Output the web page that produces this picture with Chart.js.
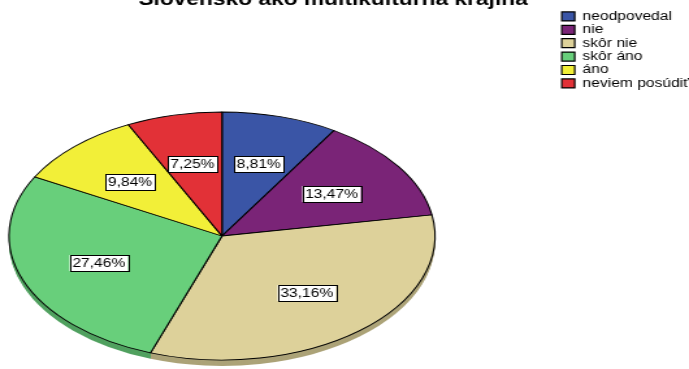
<!DOCTYPE html>
<html>
<head>
<meta charset="utf-8">
<script src="https://cdn.jsdelivr.net/npm/chart.js@4.4.1/dist/chart.umd.min.js"></script>
<style>
  html, body { margin: 0; padding: 0; background: #fff; overflow: hidden; }
  /* the reference picture is stretched sideways, so the chart is drawn narrow and stretched */
  #wrap { width: 540px; height: 369px; transform: scaleX(1.3); transform-origin: 0 0; }
</style>
</head>
<body>
<div id="wrap"><canvas id="pieChart" width="540" height="369"></canvas></div>
<script>
const chartTitle = 'Slovensko ako multikultúrna krajina';
const categories = ['neodpovedal', 'nie', 'skôr nie', 'skôr áno', 'áno', 'neviem posúdiť'];
const percentages = [8.81, 13.47, 33.16, 27.46, 9.84, 7.25];
const sliceColors = ['#3a55a6', '#7a2477', '#ddd19a', '#68cf7b', '#f2ef38', '#e23137'];

const stretch = 1.3;
const fontFamily = '"Liberation Sans", Arial, sans-serif';
const pieCenter = { x: 222 / stretch, y: 236 };
const pieRadii = { x: 213 / stretch, y: 124 };
const pieDepth = 6;

function darken(hex, f) {
  const n = parseInt(hex.slice(1), 16);
  const r = Math.round((n >> 16) * f);
  const g = Math.round(((n >> 8) & 255) * f);
  const b = Math.round((n & 255) * f);
  return `rgb(${r},${g},${b})`;
}

// squash the round pie into the tilted ellipse
function tiltPie(ctx, arc, dy) {
  const sx = pieRadii.x / arc.outerRadius;
  const sy = pieRadii.y / arc.outerRadius;
  ctx.translate(pieCenter.x, pieCenter.y + dy);
  ctx.scale(sx, sy);
  ctx.translate(-arc.x, -arc.y);
}

const tiltedPie = {
  id: 'tiltedPie',
  beforeDatasetsDraw(chart) {
    const ctx = chart.ctx;
    const arcs = chart.getDatasetMeta(0).data;
    // side of the pie: the same arcs, darker, pushed down
    for (let k = pieDepth; k >= 1; k--) {
      ctx.save();
      tiltPie(ctx, arcs[0], k);
      arcs.forEach((arc, i) => {
        const opts = arc.options;
        arc.options = Object.assign({}, opts, { backgroundColor: darken(sliceColors[i], 0.78), borderWidth: 0 });
        arc.draw(ctx);
        arc.options = opts;
      });
      ctx.restore();
    }
    ctx.save();
    tiltPie(ctx, arcs[0], 0);
  },
  afterDatasetsDraw(chart) {
    const ctx = chart.ctx;
    ctx.restore();
    const arcs = chart.getDatasetMeta(0).data;
    ctx.save();
    ctx.font = `12px ${fontFamily}`;
    ctx.textAlign = 'center';
    ctx.textBaseline = 'middle';
    arcs.forEach((arc, i) => {
      const mid = (arc.startAngle + arc.endAngle) / 2;
      const x = Math.round(pieCenter.x + Math.cos(mid) * pieRadii.x * 0.62);
      const y = Math.round(pieCenter.y + Math.sin(mid) * pieRadii.y * 0.6);
      const text = percentages[i].toFixed(2).replace('.', ',') + '%';
      const w = Math.round(ctx.measureText(text).width + 4);
      const h = 16;
      ctx.fillStyle = '#fff';
      ctx.fillRect(x - w / 2, y - h / 2, w, h);
      ctx.strokeStyle = '#000';
      ctx.lineWidth = 1;
      ctx.strokeRect(Math.round(x - w / 2) + 0.5, Math.round(y - h / 2) + 0.5, w, h);
      ctx.fillStyle = '#000';
      ctx.fillText(text, x, y + 1);
    });
    ctx.restore();
  }
};

const cutTitle = {
  id: 'cutTitle',
  afterDraw(chart) {
    const ctx = chart.ctx;
    ctx.save();
    ctx.font = `bold 17.5px ${fontFamily}`;
    ctx.fillStyle = '#000';
    ctx.textAlign = 'center';
    ctx.textBaseline = 'alphabetic';
    ctx.fillText(chartTitle, 333 / stretch, 5);
    ctx.restore();
  }
};

new Chart(document.getElementById('pieChart'), {
  type: 'pie',
  data: {
    labels: categories,
    datasets: [{
      data: percentages,
      backgroundColor: sliceColors,
      borderColor: '#000',
      borderWidth: 1.2
    }]
  },
  options: {
    responsive: false,
    animation: false,
    events: [],
    clip: false,
    layout: { padding: { top: 9, right: 0, bottom: 0, left: 0 } },
    plugins: {
      legend: {
        position: 'right',
        align: 'start',
        labels: {
          boxWidth: 10,
          boxHeight: 9,
          padding: 1.4,
          color: '#000',
          font: { size: 12, family: fontFamily }
        }
      },
      tooltip: { enabled: false }
    }
  },
  plugins: [tiltedPie, cutTitle]
});
</script>
</body>
</html>
